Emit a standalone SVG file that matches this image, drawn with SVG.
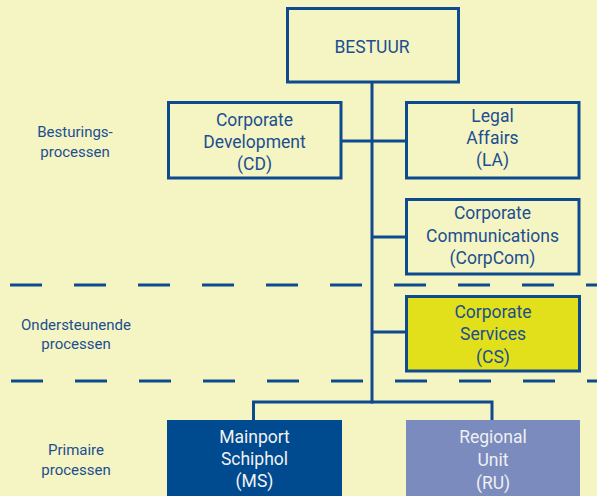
<svg xmlns="http://www.w3.org/2000/svg" width="597" height="496" viewBox="0 0 597 496">
<style>
.box{fill:none;stroke:#0D4A8E;stroke-width:3}
.t{font-family:Roboto,"Liberation Sans",sans-serif;font-size:17.5px;fill:#1B4F90;text-anchor:middle}
.lbl{font-family:Roboto,"Liberation Sans",sans-serif;font-size:15px;fill:#1B4F90;text-anchor:middle}
.ln{stroke:#0D4A8E;stroke-width:3;fill:none}
.dash{stroke:#0D4A8E;stroke-width:3;stroke-dasharray:32 32}
</style>
<rect width="597" height="496" fill="#F5F4C3"/>
<g id="dividers">
<line class="dash" x1="10" y1="285" x2="597" y2="285"/>
<line class="dash" x1="11" y1="381" x2="597" y2="381"/>
</g>
<g id="labels">
<text class="lbl" x="75" y="137">Besturings-</text>
<text class="lbl" x="75" y="157">processen</text>
<text class="lbl" x="76" y="330">Ondersteunende</text>
<text class="lbl" x="76" y="349">processen</text>
<text class="lbl" x="76" y="455">Primaire</text>
<text class="lbl" x="76" y="475">processen</text>
</g>
<g id="connectors">
<line class="ln" x1="372" y1="82" x2="372" y2="403.5"/>
<line class="ln" x1="341" y1="141" x2="406" y2="141"/>
<line class="ln" x1="372" y1="237" x2="406" y2="237"/>
<line class="ln" x1="372" y1="332" x2="406" y2="332"/>
<path class="ln" d="M253.5 420V402H492V420"/>
</g>
<g id="bestuur">
<rect class="box" x="287.5" y="8.5" width="171" height="73.5"/>
<text class="t" x="372" y="53">BESTUUR</text>
</g>
<g id="cd">
<rect class="box" x="168.5" y="102.5" width="172.5" height="75.5"/>
<text class="t" x="254.5" y="126">Corporate</text>
<text class="t" x="254.5" y="148">Development</text>
<text class="t" x="254.5" y="169.5">(CD)</text>
</g>
<g id="la">
<rect class="box" x="406.5" y="102.5" width="172.5" height="75.5"/>
<text class="t" x="492.5" y="122">Legal</text>
<text class="t" x="492.5" y="144">Affairs</text>
<text class="t" x="492.5" y="166">(LA)</text>
</g>
<g id="corpcom">
<rect class="box" x="406.5" y="199.5" width="172.5" height="74.5"/>
<text class="t" x="492.5" y="218.5">Corporate</text>
<text class="t" x="492.5" y="241.5">Communications</text>
<text class="t" x="492.5" y="263.5">(CorpCom)</text>
</g>
<g id="cs">
<rect x="406.5" y="296.5" width="173" height="74.5" fill="#E1E01A" stroke="#0D4A8E" stroke-width="3"/>
<text class="t" x="493" y="318">Corporate</text>
<text class="t" x="493" y="340">Services</text>
<text class="t" x="493" y="362.5">(CS)</text>
</g>
<g id="ms">
<rect x="167" y="420" width="175" height="76" fill="#004A8F"/>
<text class="t" x="254.5" y="442.5" style="fill:#F2F2F2">Mainport</text>
<text class="t" x="254.5" y="464.5" style="fill:#F2F2F2">Schiphol</text>
<text class="t" x="254.5" y="487" style="fill:#F2F2F2">(MS)</text>
</g>
<g id="ru">
<rect x="406" y="420" width="174" height="76" fill="#7B8BBE"/>
<text class="t" x="493" y="443" style="fill:#EEF0F2">Regional</text>
<text class="t" x="493" y="466" style="fill:#EEF0F2">Unit</text>
<text class="t" x="493" y="489" style="fill:#EEF0F2">(RU)</text>
</g>
</svg>
